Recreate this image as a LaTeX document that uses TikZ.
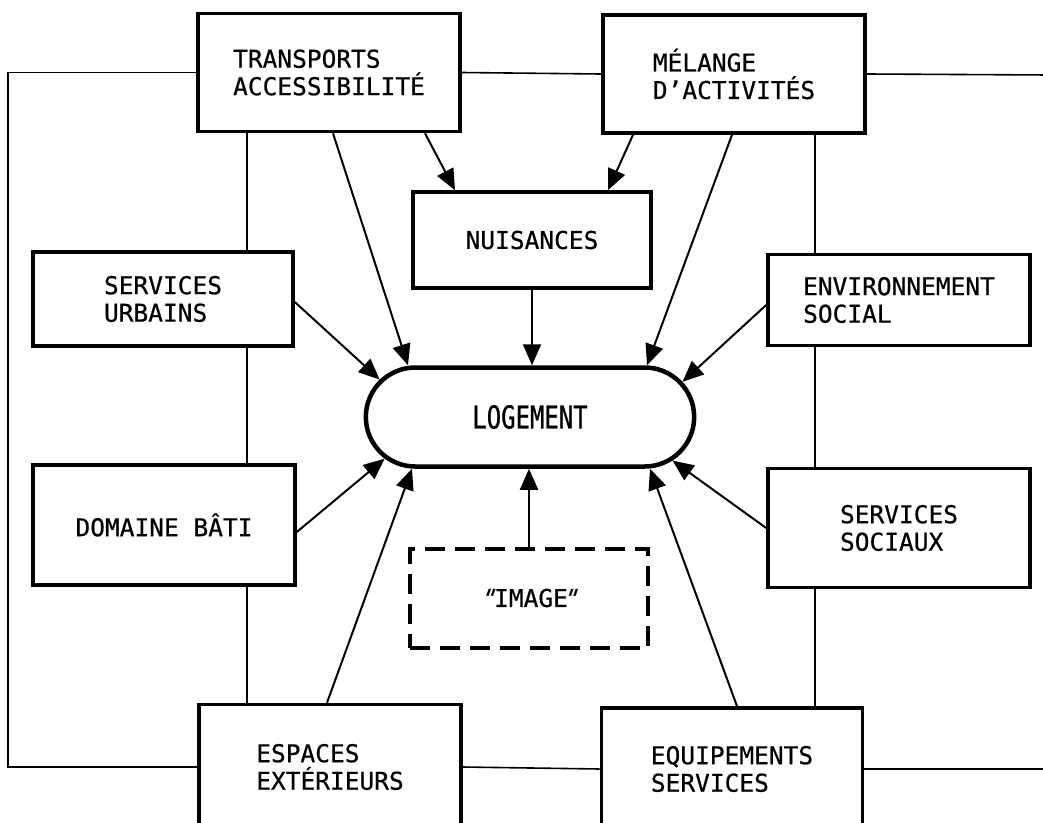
\documentclass[tikz,border=0pt]{standalone}
\usepackage{fontspec}
\usepackage{tikz}
\usetikzlibrary{arrows.meta,shapes.misc}

\newfontfamily\lettrage[FakeBold=0.6]{DejaVu Sans Mono}
\newfontfamily\lettragelog[FakeStretch=0.76,FakeBold=0.8]{DejaVu Sans Mono}
\newfontfamily\guillemet[FakeSlant=0.35,FakeBold=0.6]{DejaVu Sans Mono}

\begin{document}
\begin{tikzpicture}[x=1pt,y=-1pt,
    >={Triangle[length=21pt,width=18pt]},
    bloc/.style={draw,line width=3.6pt,minimum width=262pt,minimum height=118pt,
      align=left,font=\lettrage\fontsize{24.5}{27.5}\selectfont},
    fleche/.style={->,line width=2pt},
    lien/.style={line width=1.6pt}]
  \clip (0,0) rectangle (1043,822);
  % les blocs
  \node (transp)  at (329,72.5) [bloc] {TRANSPORTS\\ACCESSIBILITÉ};
  \node (melange) at (734,74)   [bloc] {MÉLANGE\\D’ACTIVITÉS};
  \node (nuis)    at (532,240)  [bloc,minimum width=238pt,minimum height=96pt] {NUISANCES};
  \node (urbains) at (163,299)  [bloc,minimum width=260pt,minimum height=94pt] {SERVICES\\URBAINS};
  \node (envsoc)  at (899,300)  [bloc,minimum height=91pt] {ENVIRONNEMENT\\SOCIAL};
  \node (bati)    at (164,525)  [bloc,minimum height=120pt] {DOMAINE BÂTI};
  \node (sociaux) at (899,528)  [bloc,minimum height=119pt] {SERVICES\\SOCIAUX};
  \node (espaces) at (330,767)  [bloc,minimum height=125pt] {ESPACES\\EXTÉRIEURS};
  \node (equip)   at (732,769)  [bloc,minimum width=261pt,minimum height=122pt] {EQUIPEMENTS\\SERVICES};
  \node (image)   at (529,598)  [bloc,dash pattern=on 20pt off 10pt,line width=4pt,
    minimum width=238pt,minimum height=99pt]
    {\kern-4pt{\guillemet"}\kern1pt IMAGE\kern-7pt{\guillemet"}};
  \node (logement) at (530,417) [draw,rounded rectangle,line width=4.5pt,
    minimum width=335pt,minimum height=99pt,
    font=\lettragelog\fontsize{31.5}{31.5}\selectfont] {LOGEMENT};
  % le grand cadre
  \coordinate (gauche) at (8,767);
  \coordinate (droitehaut) at (1050,75);
  \coordinate (droitebas) at (1050,769);
  \draw[lien] (transp.west) -| (gauche) -- (espaces.west);
  \draw[lien] (transp.east) -- (melange.west);
  \draw[lien] (melange.east) -- (droitehaut);
  \draw[lien] (espaces.east) -- (equip.west);
  \draw[lien] (equip.east) -- (droitebas);
  % les liaisons verticales
  \coordinate (axeg) at (247,0);
  \coordinate (axed) at (815,0);
  \draw[lien] (axeg |- transp.south) -- (axeg |- urbains.north);
  \draw[lien] (axeg |- urbains.south) -- (axeg |- bati.north);
  \draw[lien] (axeg |- bati.south) -- (axeg |- espaces.north);
  \draw[lien] (axed |- melange.south) -- (axed |- envsoc.north);
  \draw[lien] (axed |- envsoc.south) -- (axed |- sociaux.north);
  \draw[lien] (axed |- sociaux.south) -- (axed |- equip.north);
  % les flèches vers le logement
  \draw[fleche] ([xshift=4pt]transp.south) -- ([xshift=-122pt]logement.north);
  \draw[fleche] ([xshift=96pt]transp.south) -- ([xshift=-77pt]nuis.north);
  \draw[fleche] ([xshift=-101pt]melange.south) -- ([xshift=76pt]nuis.north);
  \draw[fleche] ([xshift=-2pt]melange.south) -- ([xshift=117pt]logement.north);
  \draw[fleche] (nuis.south) -- (nuis.south |- logement.north);
  \draw[fleche] ([yshift=-3pt]urbains.east) -- (logement.166);
  \draw[fleche] ([yshift=-5pt]envsoc.west) -- (logement.13.5);
  \draw[fleche] ([yshift=-7pt]bati.east) -- (logement.196);
  \draw[fleche] ([xshift=-3pt]espaces.north) -- ([xshift=-118pt]logement.south);
  \draw[fleche] (image.north) -- (image.north |- logement.south);
  \draw[fleche] ([xshift=5pt]equip.north) -- ([xshift=120pt]logement.south);
  \draw[fleche] (sociaux.west) -- (logement.-17);
\end{tikzpicture}
\end{document}
